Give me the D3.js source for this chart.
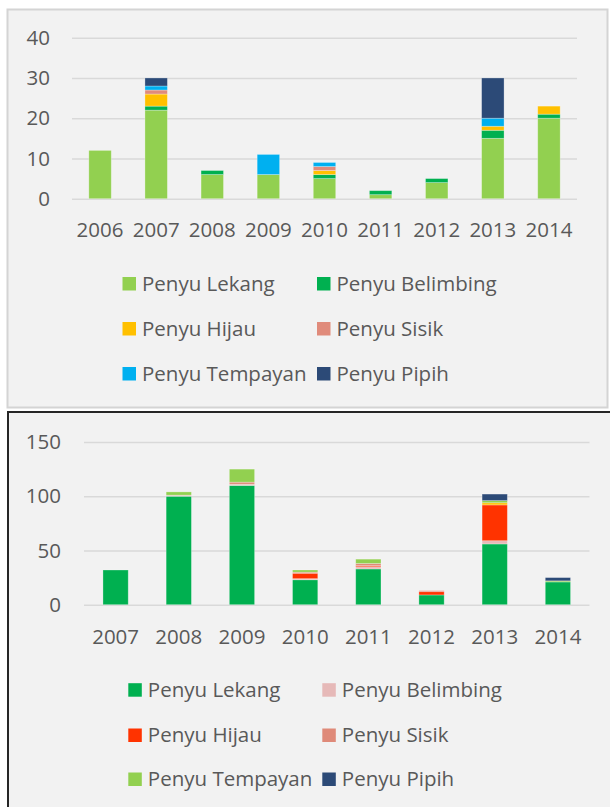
<!DOCTYPE html>
<html>
<head>
<meta charset="utf-8">
<script src="https://cdn.jsdelivr.net/npm/d3@7"></script>
<style>
  body { margin: 0; background: #fff; }
  svg text { font-family: "Open Sans", sans-serif; fill: #595959; }
</style>
</head>
<body>
<svg id="chart" width="610" height="807"></svg>
<script>
// species names (legend order)
var species = ["Penyu Lekang", "Penyu Belimbing", "Penyu Hijau", "Penyu Sisik", "Penyu Tempayan", "Penyu Pipih"];

// chart 1 data
var years1 = ["2006", "2007", "2008", "2009", "2010", "2011", "2012", "2013", "2014"];
var lekang1    = [12, 22, 6, 6, 5, 1, 4, 15, 20];
var belimbing1 = [0, 1, 1, 0, 1, 1, 1, 2, 1];
var hijau1     = [0, 3, 0, 0, 1, 0, 0, 1, 2];
var sisik1     = [0, 1, 0, 0, 1, 0, 0, 0, 0];
var tempayan1  = [0, 1, 0, 5, 1, 0, 0, 2, 0];
var pipih1     = [0, 2, 0, 0, 0, 0, 0, 10, 0];
var yTicks1 = [0, 10, 20, 30, 40];

// chart 2 data
var years2 = ["2007", "2008", "2009", "2010", "2011", "2012", "2013", "2014"];
var lekang2    = [32, 100, 110, 23, 33, 9, 56, 21];
var belimbing2 = [0, 1, 1, 1, 2, 0, 3, 0];
var hijau2     = [0, 0, 0, 5, 1, 3, 33, 0];
var sisik2     = [0, 0, 2, 1, 2, 1, 0, 0];
var lainnya2   = [0, 0, 0, 0, 0, 0, 2, 0];   // yellow sliver, no legend entry
var tempayan2  = [0, 3, 12, 2, 4, 0, 2, 1];
var pipih2     = [0, 0, 0, 0, 0, 0, 6, 3];
var yTicks2 = [0, 50, 100, 150];

var colors1 = ["#92d050", "#00b050", "#ffc000", "#e08b7b", "#00b0f0", "#2c4a77"];
var colors2 = ["#00b050", "#e6b9b8", "#ff3300", "#df8a79", "#92d050", "#2c4a77"];

var svg = d3.select("#chart");

// panels
svg.append("rect")
    .attr("x", 7.5).attr("y", 9.5)
    .attr("width", 600).attr("height", 398)
    .attr("fill", "#f2f2f2")
    .attr("stroke", "#d4d4d4")
    .attr("stroke-width", 2);

svg.append("rect")
    .attr("x", 8).attr("y", 412)
    .attr("width", 610).attr("height", 420)
    .attr("fill", "#f2f2f2")
    .attr("stroke", "#262626")
    .attr("stroke-width", 2);

drawChart({
  years: years1,
  keys: ["lekang", "belimbing", "hijau", "sisik", "tempayan", "pipih"],
  values: { lekang: lekang1, belimbing: belimbing1, hijau: hijau1, sisik: sisik1, tempayan: tempayan1, pipih: pipih1 },
  colors: { lekang: colors1[0], belimbing: colors1[1], hijau: colors1[2], sisik: colors1[3], tempayan: colors1[4], pipih: colors1[5] },
  legendColors: colors1,
  yTicks: yTicks1,
  x0: 72, x1: 577, yTop: 37.7, yBottom: 198.7,
  yLabelX: 50, xLabelY: 237.5,
  legendX: [122.5, 317], legendY: [290.5, 335.5, 380.5]
});

drawChart({
  years: years2,
  keys: ["lekang", "belimbing", "hijau", "sisik", "lainnya", "tempayan", "pipih"],
  values: { lekang: lekang2, belimbing: belimbing2, hijau: hijau2, sisik: sisik2, lainnya: lainnya2, tempayan: tempayan2, pipih: pipih2 },
  colors: { lekang: colors2[0], belimbing: colors2[1], hijau: colors2[2], sisik: colors2[3], lainnya: "#ffc000", tempayan: colors2[4], pipih: colors2[5] },
  legendColors: colors2,
  yTicks: yTicks2,
  x0: 84, x1: 589.5, yTop: 442, yBottom: 604.7,
  yLabelX: 61, xLabelY: 644,
  legendX: [128.3, 322.3], legendY: [696.7, 742, 786]
});

function drawChart(c) {
  var table = c.years.map(function(yr, i) {
    var row = { year: yr };
    c.keys.forEach(function(k) { row[k] = c.values[k][i]; });
    return row;
  });

  var x = d3.scaleBand().domain(c.years).range([c.x0, c.x1])
      .paddingInner(0.6).paddingOuter(0.3);
  var yMax = c.yTicks[c.yTicks.length - 1];
  var y = d3.scaleLinear().domain([0, yMax]).range([c.yBottom, c.yTop]);

  var g = svg.append("g");

  // gridlines
  var grid = g.append("g")
      .attr("transform", "translate(" + c.x0 + ",0)")
      .call(d3.axisLeft(y).tickValues(c.yTicks).tickSize(-(c.x1 - c.x0)).tickFormat(""));
  grid.select(".domain").remove();
  grid.selectAll("line").attr("stroke", "#d9d9d9").attr("stroke-width", 1.5);

  // y labels
  var yAxis = g.append("g")
      .attr("transform", "translate(" + c.yLabelX + ",0)")
      .call(d3.axisLeft(y).tickValues(c.yTicks).tickSize(0).tickPadding(0));
  yAxis.select(".domain").remove();
  yAxis.selectAll("text")
      .attr("font-size", "20.5px")
      .attr("font-family", "Open Sans")
      .attr("fill", "#595959");

  // x labels
  var xAxis = g.append("g")
      .attr("transform", "translate(0," + c.yBottom + ")")
      .call(d3.axisBottom(x).tickSize(0).tickPadding(0));
  xAxis.select(".domain").remove();
  xAxis.selectAll("text")
      .attr("y", c.xLabelY - c.yBottom)
      .attr("dy", null)
      .attr("font-size", "20.5px")
      .attr("font-family", "Open Sans")
      .attr("fill", "#595959");

  // stacked bars
  var stack = d3.stack().keys(c.keys)(table);
  g.selectAll(".layer")
      .data(stack)
    .enter().append("g")
      .attr("fill", function(d) { return c.colors[d.key]; })
    .selectAll("rect")
      .data(function(d) { return d.filter(function(p) { return p[1] > p[0]; }); })
    .enter().append("rect")
      .attr("x", function(d) { return x(d.data.year); })
      .attr("width", x.bandwidth())
      .attr("y", function(d) { return y(d[1]); })
      .attr("height", function(d) { return y(d[0]) - y(d[1]); })
      .attr("stroke", "#ffffff")
      .attr("stroke-opacity", 0.35)
      .attr("stroke-width", 0.8);

  // legend (2 columns x 3 rows)
  var leg = g.selectAll(".leg")
      .data(species)
    .enter().append("g")
      .attr("transform", function(d, i) {
        return "translate(" + c.legendX[i % 2] + "," + c.legendY[Math.floor(i / 2)] + ")";
      });
  leg.append("rect")
      .attr("x", 0).attr("y", -13.5)
      .attr("width", 13.5).attr("height", 13.5)
      .attr("fill", function(d, i) { return c.legendColors[i]; });
  leg.append("text")
      .attr("x", 19.5)
      .attr("y", 0)
      .attr("font-size", "20.5px")
      .text(function(d) { return d; });
}
</script>
</body>
</html>
